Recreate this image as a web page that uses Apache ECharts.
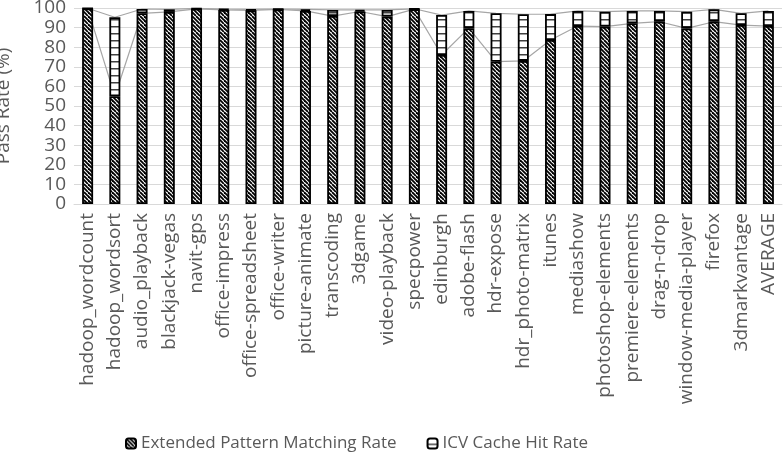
<!DOCTYPE html>
<html>
<head>
<meta charset="utf-8">
<script src="https://cdn.jsdelivr.net/npm/echarts@6/dist/echarts.min.js"></script>
<style>
  html, body { margin: 0; padding: 0; background: #fff; }
  #chart { width: 784px; height: 454px; }
</style>
</head>
<body>
<div id="chart"></div>
<script>
const categories = ['hadoop_wordcount', 'hadoop_wordsort', 'audio_playback', 'blackjack-vegas', 'navit-gps',
  'office-impress', 'office-spreadsheet', 'office-writer', 'picture-animate', 'transcoding', '3dgame',
  'video-playback', 'specpower', 'edinburgh', 'adobe-flash', 'hdr-expose', 'hdr_photo-matrix', 'itunes',
  'mediashow', 'photoshop-elements', 'premiere-elements', 'drag-n-drop', 'window-media-player', 'firefox',
  '3dmarkvantage', 'AVERAGE']
// Extended Pattern Matching Rate (bottom segment)
const patternRate = [99.8, 55, 97.3, 98, 99.6, 99, 98.8, 99.3, 98.5, 95.9, 98.2, 95.6, 99.4,
  76, 89.7, 72.6, 73, 83.7, 90.8, 90.5, 92.2, 93, 89.6, 93, 91.3, 90.8]
// ICV Cache Hit Rate (stacked on top)
const cacheHitRate = [0.1, 40.3, 2.2, 1.3, 0.2, 0.5, 0.5, 0.2, 0.8, 3.1, 0.8, 3.4, 0.2,
  20.4, 8.8, 24.7, 23.8, 13.2, 7.7, 7.6, 6.3, 5.5, 8.5, 6.3, 6, 7.7]

const FONT = 'Open Sans'
const TEXT = '#595959'

// diagonal hatch
function stripePattern () {
  const c = document.createElement('canvas')
  c.width = 8
  c.height = 8
  const ctx = c.getContext('2d')
  ctx.fillStyle = '#fff'
  ctx.fillRect(0, 0, 8, 8)
  ctx.strokeStyle = '#000'
  ctx.lineWidth = 1.8
  for (let k = -8; k <= 8; k += 4) {
    ctx.beginPath()
    ctx.moveTo(k, 0)
    ctx.lineTo(k + 8, 8)
    ctx.stroke()
  }
  return c
}

// horizontal hatch
function linePattern () {
  const c = document.createElement('canvas')
  c.width = 4
  c.height = 7
  const ctx = c.getContext('2d')
  ctx.fillStyle = '#fff'
  ctx.fillRect(0, 0, 4, 7)
  ctx.fillStyle = '#404040'
  ctx.fillRect(0, 5, 4, 1.5)
  return c
}

const chart = echarts.init(document.getElementById('chart'))

const option = {
  animation: false,
  grid: { left: 74, right: 2, top: 8, bottom: 250, containLabel: false, outerBoundsMode: 'none' },
  legend: {
    data: ['Extended Pattern Matching Rate', 'ICV Cache Hit Rate'],
    left: 120,
    top: 430,
    itemWidth: 10,
    itemHeight: 10,
    itemGap: 30,
    textStyle: { fontFamily: FONT, fontSize: 17, color: TEXT }
  },
  xAxis: {
    type: 'category',
    data: categories,
    axisLine: { lineStyle: { color: '#d9d9d9', width: 1 } },
    axisTick: { show: false },
    axisLabel: {
      rotate: 90,
      interval: 0,
      margin: 9,
      fontFamily: FONT,
      fontSize: 19,
      color: TEXT
    }
  },
  yAxis: {
    type: 'value',
    min: 0,
    max: 100,
    interval: 10,
    name: 'Pass Rate (%)',
    nameLocation: 'middle',
    nameGap: 61,
    nameTextStyle: { fontFamily: FONT, fontSize: 19, color: TEXT },
    axisLine: { show: false },
    axisTick: { show: false },
    axisLabel: { fontFamily: FONT, fontSize: 19, color: TEXT, margin: 8 },
    splitLine: { lineStyle: { color: '#d9d9d9', width: 1 } }
  },
  series: [
    {
      name: 'Extended Pattern Matching Rate',
      type: 'bar',
      stack: 'rate',
      barWidth: 11,
      z: 3,
      itemStyle: { color: { image: stripePattern(), repeat: 'repeat' }, borderColor: '#000', borderWidth: 1.8 },
      data: patternRate
    },
    {
      name: 'ICV Cache Hit Rate',
      type: 'bar',
      stack: 'rate',
      barWidth: 11,
      z: 3,
      itemStyle: { color: { image: linePattern(), repeat: 'repeat' }, borderColor: '#000', borderWidth: 1.8 },
      data: cacheHitRate
    },
    // series lines behind the bars
    {
      name: 'l1',
      type: 'line',
      stack: 'lines',
      symbol: 'none',
      silent: true,
      z: 1,
      lineStyle: { color: '#a6a6a6', width: 1.2 },
      data: patternRate
    },
    {
      name: 'l2',
      type: 'line',
      stack: 'lines',
      symbol: 'none',
      silent: true,
      z: 1,
      lineStyle: { color: '#a6a6a6', width: 1.2 },
      data: cacheHitRate
    }
  ]
}

chart.setOption(option)
</script>
</body>
</html>
